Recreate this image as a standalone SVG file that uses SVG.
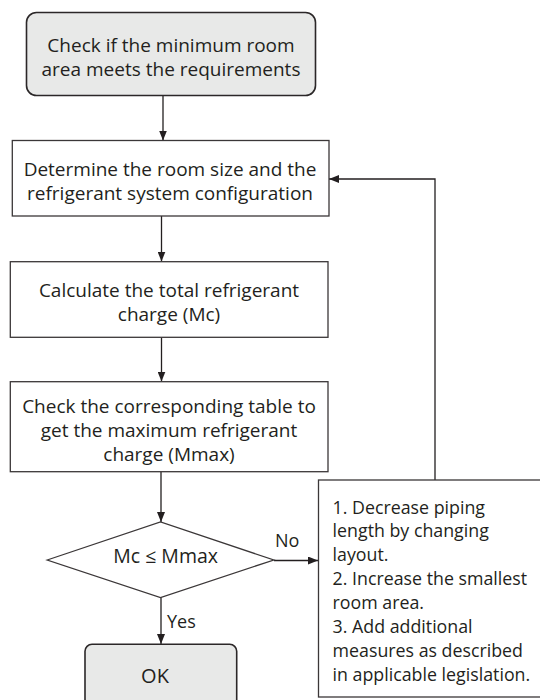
<svg xmlns="http://www.w3.org/2000/svg" width="540" height="700" viewBox="0 0 540 700">
<defs>
<style>
.box{fill:#ffffff;stroke:#3b3738;stroke-width:1.3}
.term{fill:#e8e9e8;stroke:#2b2728;stroke-width:1.6}
.t{font-family:"Open Sans","Liberation Sans",sans-serif;font-size:19px;fill:#231f20}
.s{font-size:17.8px}
.l{font-size:18px}
.c{text-anchor:middle}
.ln{fill:none;stroke:#231f20;stroke-width:1.3}
</style>
<marker id="ah" viewBox="0 0 10 8" refX="10" refY="4" markerWidth="10" markerHeight="8" markerUnits="userSpaceOnUse" orient="auto">
<path d="M0,0 L10,4 L0,8 Z" fill="#231f20"/>
</marker>
</defs>
<rect width="540" height="700" fill="#ffffff"/>
<g id="connectors">
<line class="ln" x1="163" y1="96" x2="163" y2="140.5" marker-end="url(#ah)"/>
<line class="ln" x1="161.5" y1="216" x2="161.5" y2="261.5" marker-end="url(#ah)"/>
<line class="ln" x1="161.5" y1="337.5" x2="161.5" y2="381.5" marker-end="url(#ah)"/>
<line class="ln" x1="161" y1="472" x2="161" y2="522" marker-end="url(#ah)"/>
<line class="ln" x1="274" y1="560.5" x2="318" y2="560.5" marker-end="url(#ah)"/>
<line class="ln" x1="161" y1="597.5" x2="161" y2="644" marker-end="url(#ah)"/>
<polyline class="ln" points="435,480 435,179 329,179" marker-end="url(#ah)"/>
<text class="t l" x="275" y="547">No</text>
<text class="t l" x="167" y="628">Yes</text>
</g>
<g id="start">
<rect class="term" x="26.5" y="12.5" width="289" height="83" rx="10"/>
<text class="t c" x="171" y="52">Check if the minimum room</text>
<text class="t c" x="171" y="75.5">area meets the requirements</text>
</g>
<g id="determine">
<rect class="box" x="12.3" y="140.5" width="316.7" height="75.5"/>
<text class="t c" x="170" y="176">Determine the room size and the</text>
<text class="t c" x="170" y="200">refrigerant system configuration</text>
</g>
<g id="calculate">
<rect class="box" x="10.3" y="261.7" width="317.7" height="75.6"/>
<text class="t c" x="169" y="296.7">Calculate the total refrigerant</text>
<text class="t c" x="169" y="320.7">charge (Mc)</text>
</g>
<g id="check">
<rect class="box" x="10.3" y="381.7" width="317.7" height="90"/>
<text class="t c" x="169" y="413">Check the corresponding table to</text>
<text class="t c" x="169" y="437">get the maximum refrigerant</text>
<text class="t c" x="169" y="461">charge (Mmax)</text>
</g>
<g id="decision">
<polygon class="box" points="47.2,560 160.5,522 273.8,560 160.5,597.5"/>
<text class="t c" x="165.6" y="562.7" style="font-size:19.5px">Mc ≤ Mmax</text>
</g>
<g id="measures">
<rect class="box" x="318.5" y="480" width="240" height="217"/>
<text class="t s" x="332.6" y="513.5">1. Decrease piping</text>
<text class="t s" x="332.6" y="537.4">length by changing</text>
<text class="t s" x="332.6" y="561.3">layout.</text>
<text class="t s" x="332.6" y="585.2">2. Increase the smallest</text>
<text class="t s" x="332.6" y="609.1">room area.</text>
<text class="t s" x="332.6" y="633">3. Add additional</text>
<text class="t s" x="332.6" y="656.9">measures as described</text>
<text class="t s" x="332.6" y="680.8">in applicable legislation.</text>
</g>
<g id="ok">
<rect class="term" x="85" y="644.3" width="151.7" height="70" rx="7"/>
<text class="t c" x="155" y="683" style="font-size:20px">OK</text>
</g>
</svg>
